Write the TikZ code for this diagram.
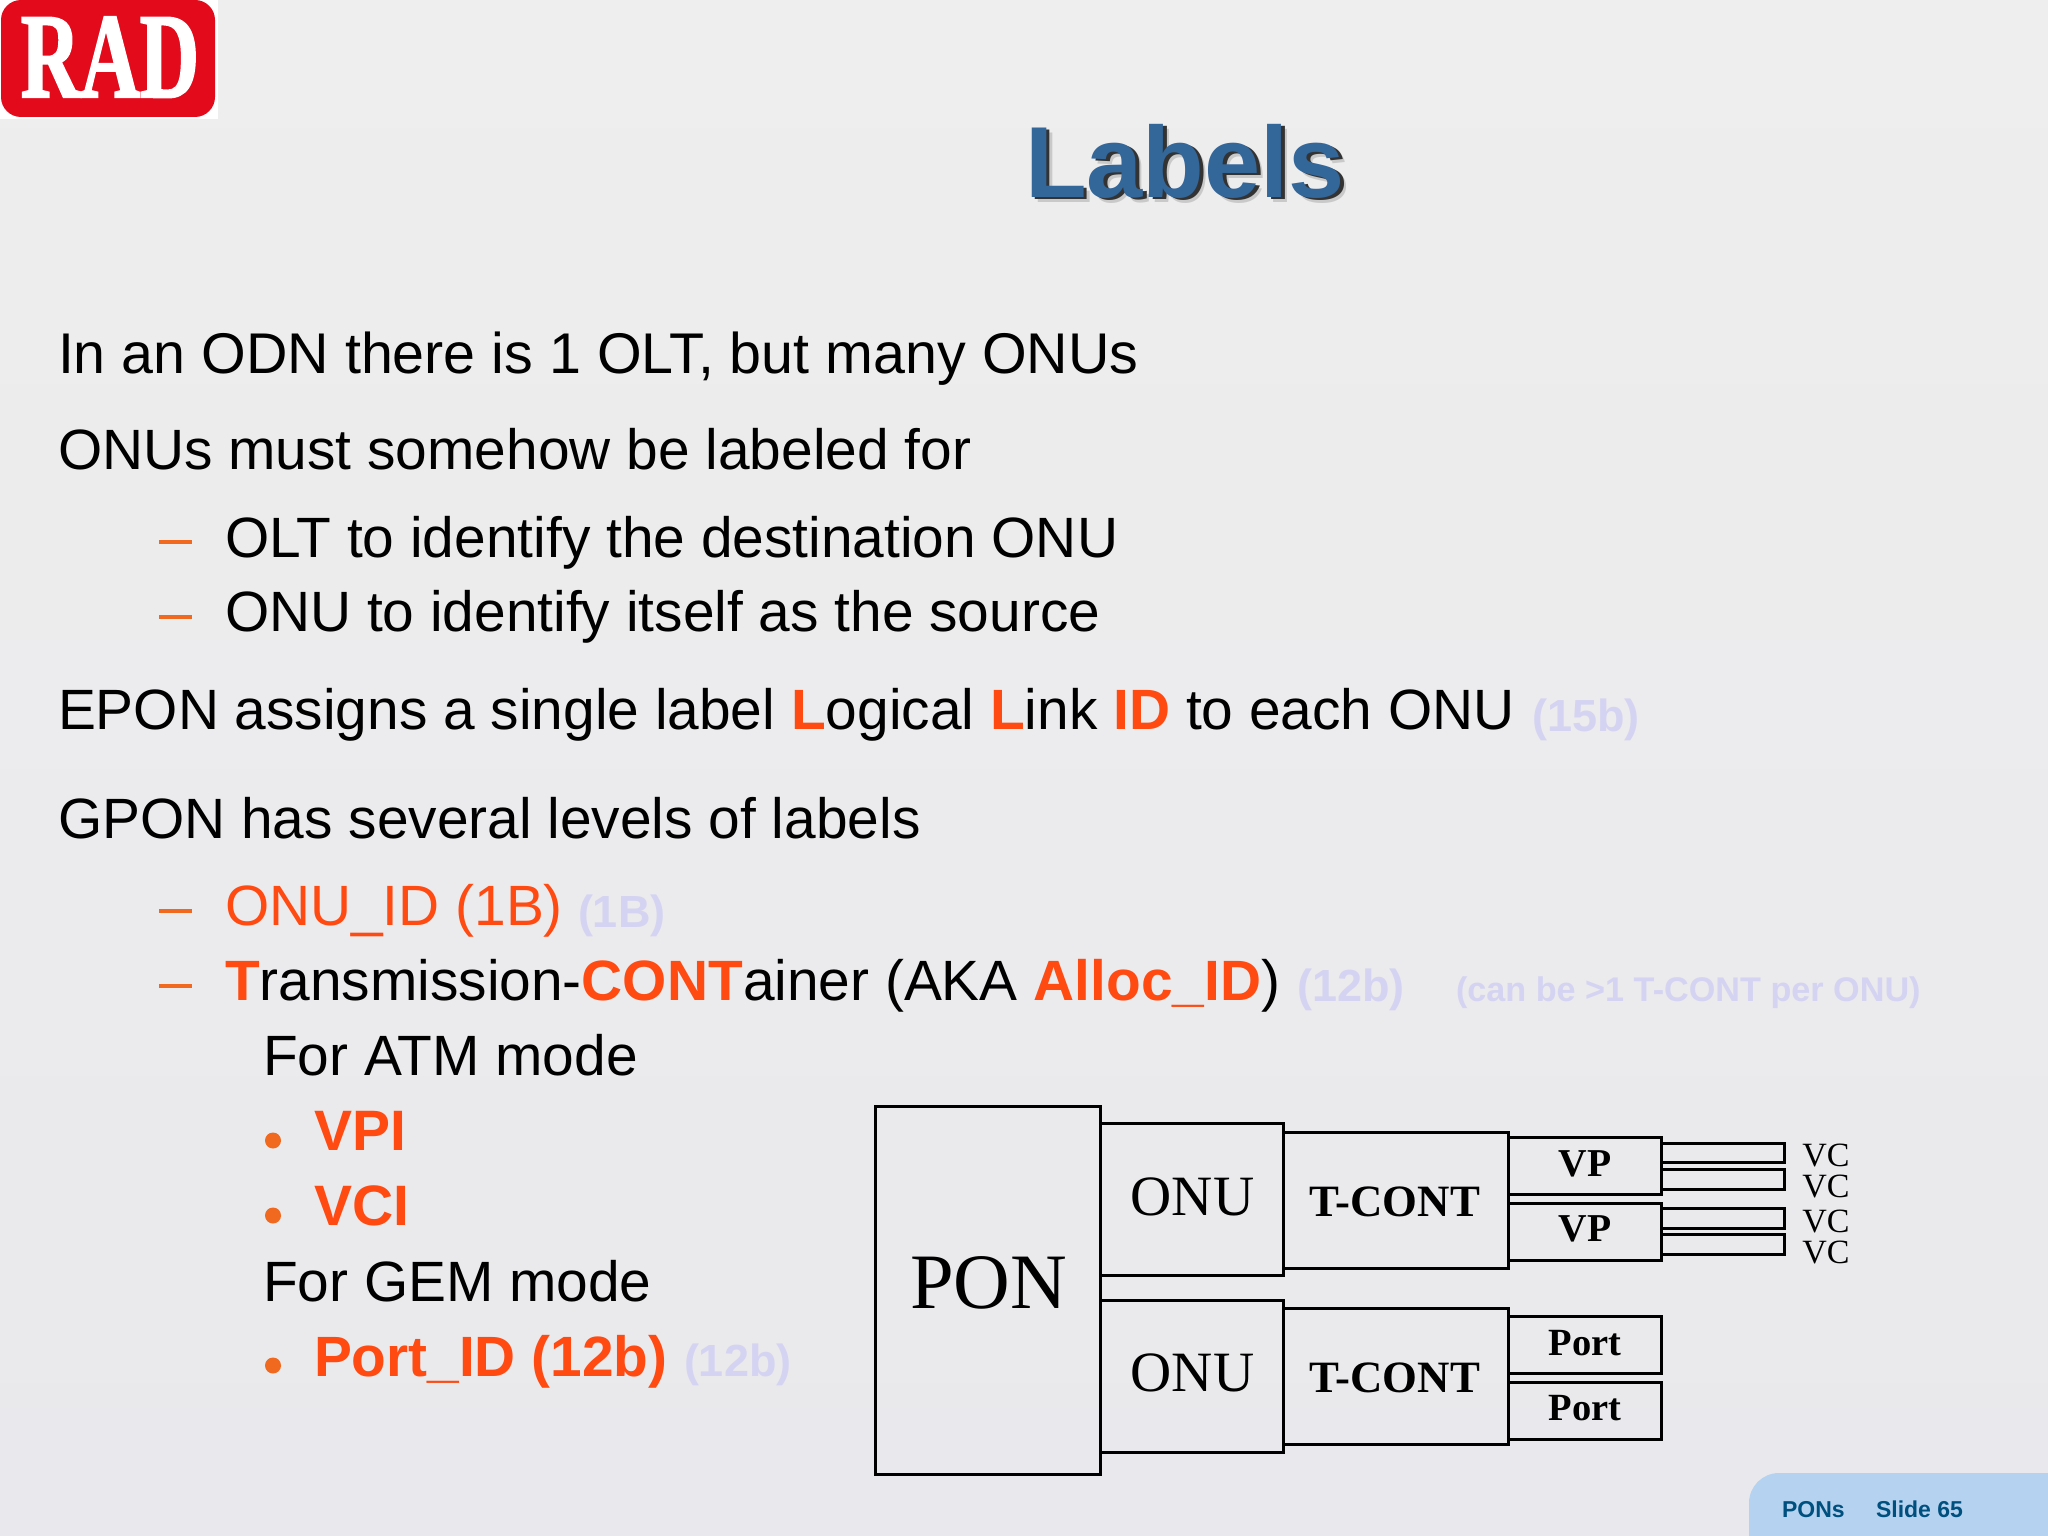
\documentclass[tikz,border=0pt]{standalone}
\usepackage{fontspec}
\setmainfont{Liberation Sans}
\newfontfamily\serifface{Liberation Serif}
\newfontfamily\radface[UprightFont={Liberation Serif Bold},UprightFeatures={FakeBold=2}]{Liberation Serif}
\definecolor{bgtop}{HTML}{EEEEEE}
\definecolor{bgbot}{HTML}{E9E8EC}
\definecolor{hot}{HTML}{FF4A12}
\definecolor{dashc}{HTML}{F0691E}
\definecolor{pale}{HTML}{D4D4F2}
\definecolor{titleblue}{HTML}{336699}
\definecolor{footblue}{HTML}{B5D3F0}
\definecolor{footink}{HTML}{00507F}
\definecolor{radred}{HTML}{E30A1C}
\newcommand{\fs}[1]{\fontsize{#1}{#1}\selectfont}
\newcommand{\hotb}[1]{\textcolor{hot}{\textbf{#1}}}
\tikzset{
  txt/.style={anchor=base west,inner sep=0pt,outer sep=0pt,font=\fs{56.85}},
  paletxt/.style={txt,text=pale,font=\fs{45}\bfseries},
  boxed/.style={draw=black,line width=3pt,anchor=north west,inner sep=0pt,outer sep=0pt},
  captxt/.style={anchor=base,inner sep=0pt,outer sep=0pt,text=black},
  dashmark/.style={fill=dashc,draw=none,anchor=center,minimum width=33pt,minimum height=3.4pt,inner sep=0pt},
  dotmark/.style={fill=dashc,draw=none,circle,minimum size=16pt,inner sep=0pt,anchor=center},
}
\newcommand{\rectnode}[5]{% name x1 y1 x2 y2
  \pgfmathsetlengthmacro{\boxw}{#4-#2}\pgfmathsetlengthmacro{\boxh}{#5-#3}
  \node[boxed,minimum width=\boxw,minimum height=\boxh] (#1) at (#2,#3) {};}
\begin{document}
\begin{tikzpicture}[x=1pt,y=-1pt]
\useasboundingbox (0,0) rectangle (2048,1536);
\shade[top color=bgtop,bottom color=bgbot] (0,0) rectangle (2048,1536);
% logo
\fill[white] (0,0) rectangle (218,119);
\fill[radred,rounded corners=20pt] (1,0) rectangle (215,117);
\node[captxt,text=white,font=\radface\fs{121},xscale=.68] (rad) at (110,97) {RAD};
% title
\node[captxt,text=black!30,font=\bfseries\fs{101},opacity=.6] (titleshb) at (1191,202) {Labels};
\node[captxt,text=black!80,font=\bfseries\fs{101}] (titlesh) at (1188.5,199.5) {Labels};
\node[captxt,text=titleblue,font=\bfseries\fs{101}] (title) at (1185,197) {Labels};
% body
\node[txt,font=\fs{57.4}] (l1) at (58,373) {In an ODN there is 1 OLT, but many ONUs};
\node[txt] (l2) at (58,469.5) {ONUs must somehow be labeled for};
\node[dashmark] (d1) at (175.5,542) {};
\node[txt] (l3) at (225,557) {OLT to identify the destination ONU};
\node[dashmark] (d2) at (175.5,617) {};
\node[txt] (l4) at (225,631.5) {ONU to identify itself as the source};
\node[txt] (l5) at (58,729) {EPON assigns a single label \hotb{L}ogical \hotb{L}ink \hotb{ID} to each ONU};
\node[paletxt] (p1) at (1532,731) {(15b)};
\node[txt] (l6) at (58,838) {GPON has several levels of labels};
\node[dashmark] (d3) at (175.5,911) {};
\node[txt,text=hot] (l7) at (225,925) {ONU\_ID (1B)};
\node[paletxt] (p2) at (578,927) {(1B)};
\node[dashmark] (d4) at (175.5,986) {};
\node[txt] (l8) at (225,1000.5) {\hotb{T}ransmission-\hotb{CONT}ainer (AKA \hotb{Alloc\_ID})};
\node[paletxt] (p3) at (1297,1001) {(12b)};
\node[paletxt,font=\fs{34.2}\bfseries] (p4) at (1456,1001) {(can be >1 T-CONT per ONU)};
\node[txt] (l9) at (263,1075) {For ATM mode};
\node[dotmark] (b1) at (273,1140.5) {};
\node[txt,text=hot,font=\fs{57}\bfseries] (l10) at (314,1150) {VPI};
\node[dotmark] (b2) at (273,1215.5) {};
\node[txt,text=hot,font=\fs{57}\bfseries] (l11) at (314,1225.5) {VCI};
\node[txt] (l12) at (263,1301.5) {For GEM mode};
\node[dotmark] (b3) at (273,1365.5) {};
\node[txt,text=hot,font=\fs{56.8}\bfseries] (l13) at (314,1376) {Port\_ID (12b)};
\node[paletxt] (p5) at (684,1376) {(12b)};
% diagram
\rectnode{pon}{875.6}{1106}{1100.7}{1474}
\rectnode{onua}{1100.7}{1123.3}{1283}{1275.7}
\rectnode{onub}{1100.7}{1300}{1283}{1452.3}
\rectnode{tca}{1283}{1132}{1508.7}{1268.3}
\rectnode{tcb}{1283}{1308.3}{1508.7}{1444.7}
\rectnode{vpa}{1508.7}{1137.7}{1661.6}{1194.3}
\rectnode{vpb}{1508.7}{1203.7}{1661.6}{1260.3}
\rectnode{pta}{1508.7}{1316.7}{1661.6}{1373.3}
\rectnode{ptb}{1508.7}{1382.3}{1661.6}{1439}
\rectnode{vca}{1661.6}{1143}{1784}{1162.7}
\rectnode{vcb}{1661.6}{1169.3}{1784}{1189}
\rectnode{vcc}{1661.6}{1208.3}{1784}{1228.3}
\rectnode{vcd}{1661.6}{1234.7}{1784}{1254.3}
\node[captxt,font=\serifface\fs{78.5}] (tpon) at (988.8,1308) {PON};
\node[captxt,font=\serifface\fs{57}] (tonua) at (1192.5,1215) {ONU};
\node[captxt,font=\serifface\fs{57}] (tonub) at (1192.5,1391.7) {ONU};
\node[captxt,font=\serifface\bfseries\fs{44.8}] (ttca) at (1394.8,1216.7) {T-CONT};
\node[captxt,font=\serifface\bfseries\fs{44.8}] (ttcb) at (1394.8,1392.7) {T-CONT};
\node[captxt,font=\serifface\bfseries\fs{39.5}] (tvpa) at (1584.8,1176) {VP};
\node[captxt,font=\serifface\bfseries\fs{39.5}] (tvpb) at (1584.8,1241.7) {VP};
\node[captxt,font=\serifface\bfseries\fs{38.5}] (tpta) at (1584.8,1355) {Port};
\node[captxt,font=\serifface\bfseries\fs{38.5}] (tptb) at (1584.8,1420.7) {Port};
\node[captxt,font=\serifface\fs{34}] (tvca) at (1826,1166.7) {VC};
\node[captxt,font=\serifface\fs{34}] (tvcb) at (1826,1197.7) {VC};
\node[captxt,font=\serifface\fs{34}] (tvcc) at (1826,1232.3) {VC};
\node[captxt,font=\serifface\fs{34}] (tvcd) at (1826,1263.3) {VC};
% footer
\fill[footblue] (1749,1536) -- (1749,1503) arc[start angle=180,end angle=90,radius=30pt] -- (2048,1473) -- (2048,1536) -- cycle;
\node[txt,text=footink,font=\fs{23}\bfseries] (fa) at (1782,1517) {PONs};
\node[txt,text=footink,font=\fs{23}\bfseries] (fb) at (1876,1517) {Slide 65};
\end{tikzpicture}
\end{document}
